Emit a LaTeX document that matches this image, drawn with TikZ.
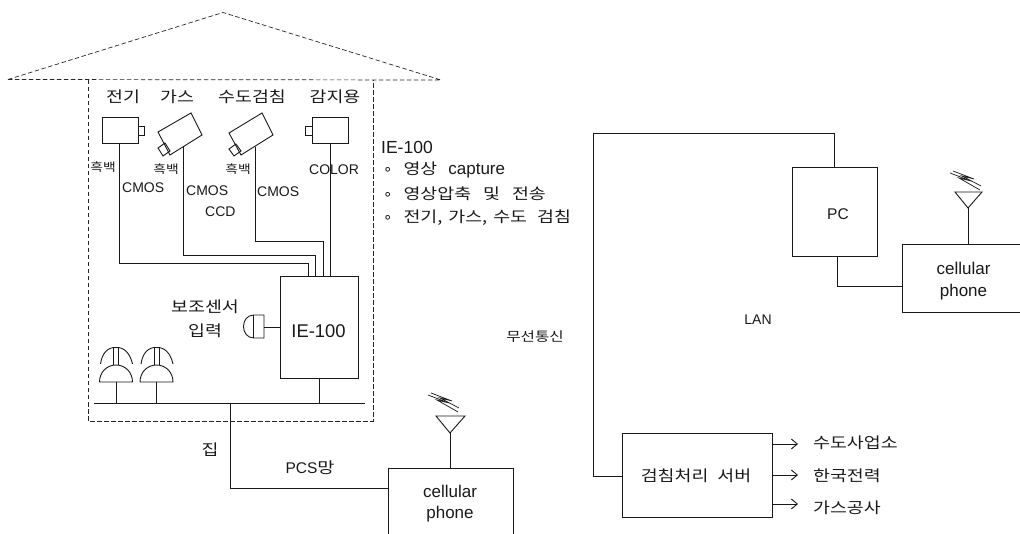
\documentclass[tikz,border=0pt]{standalone}
\usepackage{fontspec}
\setmainfont{Liberation Sans}
\newfontfamily\kr{Noto Sans CJK KR}[FakeStretch=1.2]
\newfontfamily\sym{DejaVu Sans}
\usetikzlibrary{arrows.meta}
\newcommand{\bul}{{\sym\fontsize{15}{15}\selectfont ∘}}
\tikzset{
  x=1pt,y=-1pt,
  line/.style={draw=black!90,line width=0.9pt},
  dash house/.style={draw=black!85,line width=0.7pt,dash pattern=on 4.5pt off 2.5pt},
  box/.style={draw=black!90,line width=0.9pt,fill=white,inner sep=0pt},
  lab/.style={inner sep=0pt,font=\fontsize{15.3}{18}\selectfont\kr,text=black!90},
  labs/.style={inner sep=0pt,font=\fontsize{13}{16}\selectfont\kr,text=black!90},
  small/.style={inner sep=0pt,font=\fontsize{11.5}{14}\selectfont\kr,text=black!90},
  lat/.style={inner sep=0pt,font=\fontsize{17}{20}\selectfont,text=black!90},
  cam/.style={inner sep=0pt,anchor=west,font=\fontsize{14}{16}\selectfont,text=black!90},
  arr/.style={draw=black!90,line width=0.9pt,-{Straight Barb[length=6pt,width=10pt,line width=0.9pt]}},
}
\begin{document}
\begin{tikzpicture}
\useasboundingbox (0,0) rectangle (1020,534);
% house
\draw[dash house] (8,79.5) -- (223,12.5) -- (441,80) -- cycle;
\draw[dash house] (88,80) -- (88,421) -- (373,421) -- (373,80);
% cameras
\draw[line] (102,117) rectangle (138,143);
\draw[line] (138,126) rectangle (144,135);
\draw[line] (158,132) -- (191,113) -- (202,135) -- (170,155) -- cycle;
\draw[line] (158,148) -- (165,143) -- (170,151) -- (163,156) -- cycle;
\draw[line] (229,133) -- (262,113) -- (273,135) -- (241,155) -- cycle;
\draw[line] (229,149) -- (236,144) -- (241,151) -- (234,156) -- cycle;
\draw[line] (312,117) rectangle (348,143);
\draw[line] (305,126) rectangle (312,135);
% IE box
\node[box,anchor=north west,minimum width=78pt,minimum height=102pt] (ie) at (280,276) {};
\node[lat,font=\fontsize{18.4}{20}\selectfont] (ielab) at (318.5,331) {IE-100};
% camera wires
\coordinate (c1) at (119.5,143);
\coordinate (c2) at (183,147);
\coordinate (c3) at (255,147);
\coordinate (c4) at (330,143);
\draw[line] (c1) -- (119.5,263) -- (308,263) -- (308,276);
\draw[line] (c2) -- (183,255) -- (315,255) -- (315,276);
\draw[line] (c3) -- (255,241.5) -- (323,241.5) -- (323,276);
\draw[line] (c4) -- (330,276);
% aux sensor
\draw[line] (264,315) -- (264,338) -- (254,338) .. controls (240,338) and (240,315) .. (254,315) -- cycle;
\draw[line] (253,315) -- (253,338);
\coordinate (auxend) at (264,327);
\draw[line] (auxend) -- (ie.west |- auxend);
% bus
\coordinate (busL) at (94,403.5);
\coordinate (busR) at (365,403.5);
\draw[line] (busL) -- (busR);
\draw[line] (319,378) -- (319,403.5);
% lamps
\foreach \cx in {116,156.5}{
  \draw[line] (\cx-16.5,382) .. controls (\cx-16.5,372) and (\cx-9,365) .. (\cx,365) .. controls (\cx+9,365) and (\cx+16.5,372) .. (\cx+16.5,382) -- cycle;
  \draw[line] (\cx,382) -- (\cx,403.5);
  \draw[line] (\cx-2.5,365) -- (\cx-2.5,348) (\cx+2.5,365) -- (\cx+2.5,348);
  \draw[line] (\cx-15.5,364) .. controls (\cx-14,353) and (\cx-8,347) .. (\cx,347.5) .. controls (\cx+8,347) and (\cx+14,353) .. (\cx+16.5,364);
}
% to phone
\node[box,anchor=north west,minimum width=125pt,minimum height=72pt] (ph1) at (388,468) {};
\draw[line] (230.5,403.5) -- (230.5,488.5) -- (ph1.west |- 0,488.5);
\node[lat] at (450,491) {cellular};
\node[lat] at (450,514) {phone};
\node[lab] at (210,450) {집};
\node[lat,font=\fontsize{15.5}{18}\selectfont] at (310,468) {PCS\kr 망};
% antenna 1
\draw[line] (450,468) -- (450,433);
\draw[line] (436,416) -- (465,416) -- (450,433) -- cycle;
\draw[line,line width=0.7pt] (428,395) -- (449,403) -- (437,400) -- (458,412);
\draw[line,line width=0.7pt] (431,393) -- (452,401) -- (440,398) -- (459,408);
% labels house
\node[lab] at (123,97) {전기};
\node[lab] at (177,97) {가스};
\node[lab] at (252,97) {수도검침};
\node[lab] at (335,97) {감지용};
\node[small] at (103,167) {흑백};
\node[small] at (166,169) {흑백};
\node[small] at (238,169) {흑백};
\node[cam] at (122,188) {CMOS};
\node[cam] at (186,191) {CMOS};
\node[cam] at (205,212) {CCD};
\node[cam] at (257,192) {CMOS};
\node[cam] at (309,170) {COLOR};
\node[lab] at (205,307) {보조센서};
\node[lab] at (205,331) {입력};
% IE text
\node[lat,anchor=west,font=\fontsize{17.5}{20}\selectfont] at (381,147) {IE-100};
\node[lab,anchor=west] at (383,170) {\bul\hspace{11pt}영상\hspace{11pt}\fontspec{Liberation Sans}\fontsize{17}{18}\selectfont capture};
\node[lab,anchor=west] at (383,193.5) {\bul\hspace{11pt}영상압축\hspace{12pt}및\hspace{12pt}전송};
\node[lab,anchor=west] at (383,218) {\bul\hspace{11pt}전기,\hspace{6pt}가스,\hspace{6pt}수도\hspace{10pt}검침};
% right
\node[labs] at (535,337) {무선통신};
\node[lat,font=\fontsize{14}{17}\selectfont] at (758,320) {LAN};
\node[box,anchor=north west,minimum width=85pt,minimum height=89pt] (pc) at (792,167) {};
\node[lat,font=\fontsize{15.5}{18}\selectfont] at (838,214) {PC};
\node[box,anchor=north west,minimum width=118pt,minimum height=68pt] (ph2) at (902,244) {};
\node[box,anchor=north west,minimum width=150pt,minimum height=84pt] (srv) at (622,433) {};
\draw[line] (834,167) -- (834,133) -- (593,133) -- (593,476) -- (srv.west |- 0,476);
\draw[line] (837.5,256) -- (837.5,286) -- (ph2.west |- 0,286);
\node[lat] at (963.5,268) {cellular};
\node[lat] at (963.5,292) {phone};
\draw[line] (968,244) -- (968,208);
\draw[line] (955,192) -- (982,192) -- (968,208) -- cycle;
\draw[line,line width=0.7pt] (950,173) -- (971,181) -- (959,178) -- (980,190);
\draw[line,line width=0.7pt] (953,171) -- (974,179) -- (962,176) -- (981,186);
\node[lab] at (696,476) {검침처리\hspace{9pt}서버};
\coordinate (a1) at (798,444);
\coordinate (a2) at (798,475);
\coordinate (a3) at (798,504);
\draw[arr] (772,444) -- (a1);
\draw[arr] (772,475) -- (a2);
\draw[arr] (772,504) -- (a3);
\node[lab,anchor=west] at (813,443) {수도사업소};
\node[lab,anchor=west] at (813,476) {한국전력};
\node[lab,anchor=west] at (813,508) {가스공사};
\end{tikzpicture}
\end{document}
